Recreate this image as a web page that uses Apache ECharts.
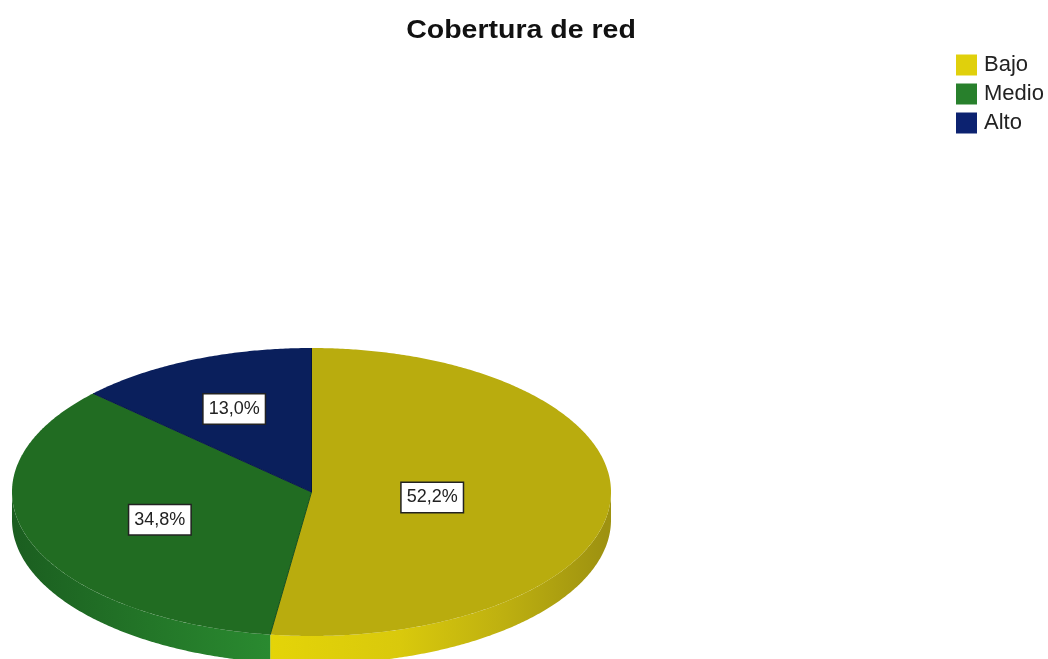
<!DOCTYPE html>
<html>
<head>
<meta charset="utf-8">
<style>html,body{margin:0;padding:0;background:#fff}#chart{width:1048px;height:659px}</style>
<script src="https://cdn.jsdelivr.net/npm/echarts@6/dist/echarts.min.js"></script>
</head>
<body>
<div id="chart"></div>
<script>
// Network coverage shares, clockwise from twelve o'clock
const categories = ['Bajo', 'Medio', 'Alto'];
const percentages = [52.2, 34.8, 13.0];
const legendColors = ['#E0D00C', '#28802C', '#0C2270'];
const topColors = ['#B9AC0E', '#216C22', '#0A1F5C'];
const seamColors = ['#06143E', '#174F1C', '#08184A'];
const labelReachX = [0.404, 0.537, 0.65];
const labelReachY = [0.55, 0.58, 0.628];

// Rim thickness in the vertical axis units of the disc
const RIM_DEPTH = 0.194;
const FONT = '"Liberation Sans", Arial, sans-serif';

const wallStops = [
  [{ x: 271, c: '#E4D408' }, { x: 400, c: '#D9C90C' }, { x: 500, c: '#BFB110' }, { x: 605, c: '#9E9210' }],
  [{ x: 12, c: '#1B5E20' }, { x: 150, c: '#237628' }, { x: 271, c: '#2A8A30' }],
  [{ x: 12, c: '#000' }, { x: 611, c: '#000' }]
];

const total = percentages.reduce((a, b) => a + b, 0);
const deg2rad = Math.PI / 180;
const rimPoint = (deg) => [Math.sin(deg * deg2rad), Math.cos(deg * deg2rad)];

function sliceBounds(i) {
  const before = percentages.slice(0, i).reduce((a, b) => a + b, 0);
  return [before / total * 360, (before + percentages[i]) / total * 360];
}

function arcPoints(from, to) {
  const pts = [];
  const steps = Math.max(2, Math.ceil((to - from) * 2));
  for (let s = 0; s <= steps; s++) pts.push(rimPoint(from + (to - from) * s / steps));
  return pts;
}

function renderSlice(i, params, api) {
  const [start, end] = sliceBounds(i);
  const toPx = (p) => api.coord(p);
  const children = [];

  // Front wall of the disc: only the part of the arc facing the viewer
  const wallFrom = Math.max(start, 90);
  const wallTo = Math.min(end, 270);
  if (wallTo > wallFrom) {
    const upper = arcPoints(wallFrom, wallTo);
    const lower = upper.slice().reverse().map((p) => [p[0], p[1] - RIM_DEPTH]);
    const stops = wallStops[i];
    const x0 = stops[0].x;
    const x1 = stops[stops.length - 1].x;
    children.push({
      type: 'polygon',
      shape: { points: upper.concat(lower).map(toPx) },
      style: {
        fill: {
          type: 'linear', global: true, x: x0, y: 0, x2: x1, y2: 0,
          colorStops: stops.map((s) => ({ offset: (s.x - x0) / (x1 - x0), color: s.c }))
        }
      }
    });
  }

  // Top face
  children.push({
    type: 'polygon',
    shape: { points: [[0, 0]].concat(arcPoints(start, end)).map(toPx) },
    style: { fill: topColors[i] }
  });

  // Darker seam along the slice's leading edge
  children.push({
    type: 'polyline',
    z2: 5,
    shape: { points: [toPx([0, 0]), toPx(rimPoint(start))] },
    style: { stroke: seamColors[i], lineWidth: 1, fill: null }
  });

  // Value label in a framed white box
  const mid = rimPoint((start + end) / 2);
  const at = toPx([mid[0] * labelReachX[i], mid[1] * labelReachY[i]]);
  children.push({
    type: 'text',
    z2: 20,
    x: at[0],
    y: at[1],
    style: {
      text: percentages[i].toFixed(1).replace('.', ',') + '%',
      font: '18px ' + FONT,
      fill: '#222',
      align: 'center',
      verticalAlign: 'middle',
      backgroundColor: '#fff',
      borderColor: '#222',
      borderWidth: 1.5,
      padding: [6, 5, 5, 5]
    }
  });

  return { type: 'group', children };
}

const chart = echarts.init(document.getElementById('chart'), null, { renderer: 'canvas' });
chart.setOption({
  animation: false,
  backgroundColor: '#fff',
  graphic: [{
    type: 'text',
    x: 521,
    y: 31,
    scaleX: 1.14,
    style: {
      text: 'Cobertura de red',
      font: 'bold 25px ' + FONT,
      fill: '#111',
      align: 'center',
      verticalAlign: 'middle'
    }
  }],
  legend: {
    orient: 'vertical',
    left: 951,
    top: 49,
    itemWidth: 21,
    itemHeight: 21,
    itemGap: 7,
    icon: 'rect',
    selectedMode: false,
    data: categories,
    textStyle: { fontFamily: FONT, fontSize: 22, color: '#222', padding: [0, 0, 0, 2] }
  },
  grid: { left: 12, top: 348, width: 599, height: 288 },
  xAxis: { type: 'value', min: -1, max: 1, show: false },
  yAxis: { type: 'value', min: -1, max: 1, show: false },
  series: categories.map((name, i) => ({
    type: 'custom',
    name,
    coordinateSystem: 'cartesian2d',
    clip: false,
    silent: true,
    itemStyle: { color: legendColors[i] },
    data: [[0, 0, percentages[i]]],
    encode: { x: 0, y: 1 },
    renderItem: (params, api) => renderSlice(i, params, api)
  }))
});
</script>
</body>
</html>
